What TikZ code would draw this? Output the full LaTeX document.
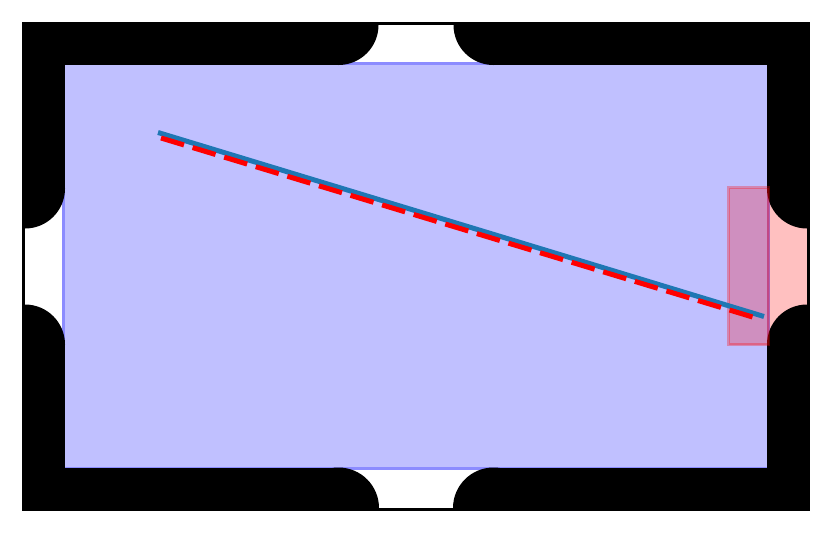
\documentclass[tikz,border=0pt]{standalone}
\definecolor{feltblue}{RGB}{192,192,255}
\definecolor{feltedge}{RGB}{140,140,255}
\definecolor{pocketpink}{RGB}{255,192,192}
\definecolor{tabblue}{RGB}{31,119,180}
\tikzset{
  rail/.style={fill=black},
  cueline/.style={draw=tabblue, line width=5pt},
  aimline/.style={draw=red, line width=5pt, dash pattern=on 24pt off 9pt},
  zonebox/.style={fill=red, fill opacity=0.25, draw=red, draw opacity=0.3, line width=3pt},
}
\begin{document}
\begin{tikzpicture}[x=1pt,y=-1pt]
\useasboundingbox (0,0) rectangle (832,533);
% felt
\fill[pocketpink] (767,188) rectangle (807,345);
\draw[fill=feltblue, draw=feltedge, line width=2.5pt] (63.5,63.5) rectangle (768.5,468.5);
% rails
\begin{scope}
  \clip (23,23) rectangle (809,510);
  \fill[rail] (338.5,25) circle[radius=40];
  \fill[rail] (493.5,25) circle[radius=40];
  \fill[rail] (338.5,508) circle[radius=40.5];
  \fill[rail] (493.5,508) circle[radius=40.5];
  \fill[rail] (25,188.5) circle[radius=40];
  \fill[rail] (25,344.5) circle[radius=40];
  \fill[rail] (807,188.5) circle[radius=40];
  \fill[rail] (807,344.5) circle[radius=40];
\end{scope}
\fill[rail] (22,22) rectangle (338.5,65);
\fill[rail] (493.5,22) rectangle (810,65);
\fill[rail] (22,467.5) rectangle (338.5,511);
\fill[rail] (493.5,467.5) rectangle (810,511);
\fill[rail] (22,22) rectangle (65,188.5);
\fill[rail] (22,344.5) rectangle (65,511);
\fill[rail] (767,22) rectangle (810,188.5);
\fill[rail] (767,344.5) rectangle (810,511);
\draw[black, line width=3pt] (23.5,23.5) rectangle (808.5,509.5);
% target zone
\path[zonebox] (728.5,187.5) rectangle (768.5,344.5);
% lines
\coordinate (cueA) at (158,132.5);
\coordinate (cueB) at (764,316.5);
\coordinate (aimA) at (161,138);
\coordinate (aimB) at (757.5,318.5);
\draw[cueline] (cueA) -- (cueB);
\draw[aimline] (aimA) -- (aimB);
\end{tikzpicture}
\end{document}
